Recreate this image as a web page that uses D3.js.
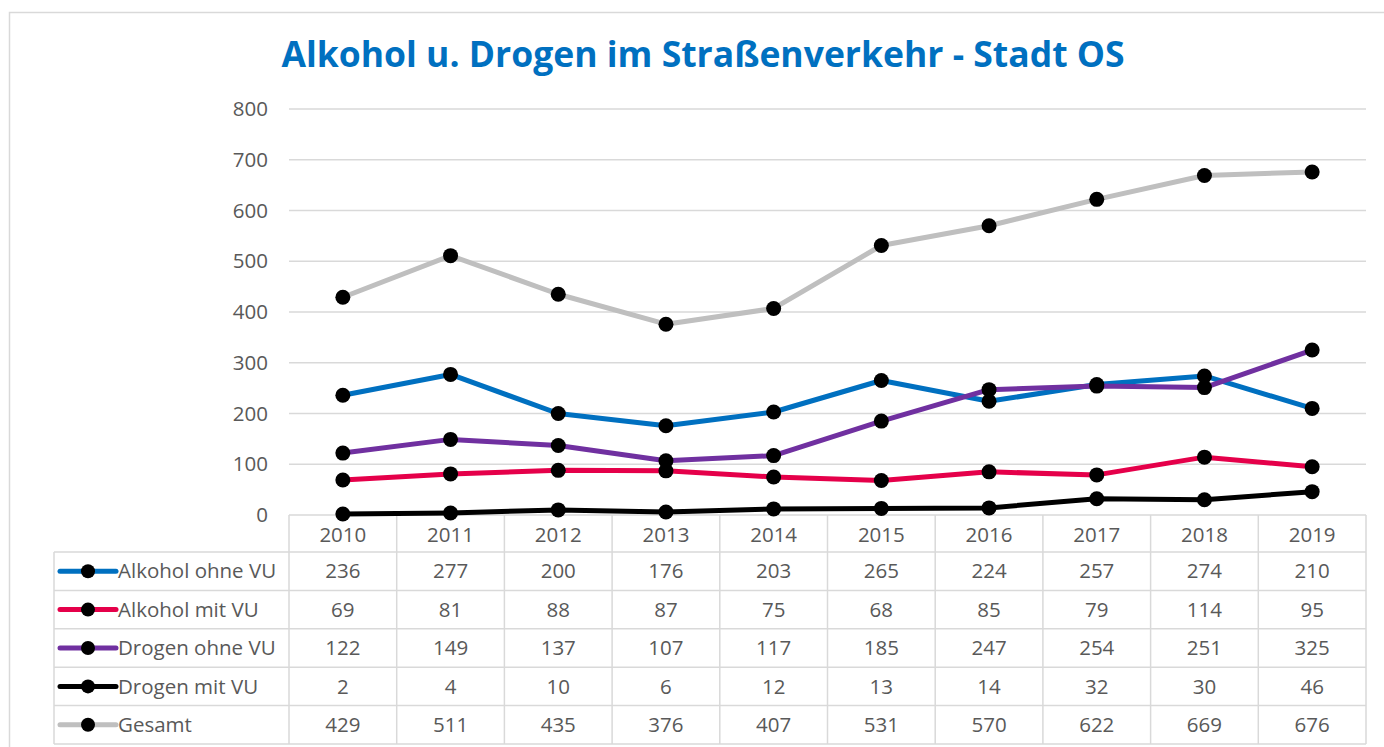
<!DOCTYPE html>
<meta charset="utf-8">
<script src="https://d3js.org/d3.v7.min.js"></script>
<style>
  body { margin: 0; background: #fff; }
  text { font-family: "Open Sans", Lato, sans-serif; }
</style>
<div id="chart"></div>
<script>
// data
var years = ["2010","2011","2012","2013","2014","2015","2016","2017","2018","2019"];
var alkoholOhne = [236, 277, 200, 176, 203, 265, 224, 257, 274, 210];
var alkoholMit  = [69, 81, 88, 87, 75, 68, 85, 79, 114, 95];
var drogenOhne  = [122, 149, 137, 107, 117, 185, 247, 254, 251, 325];
var drogenMit   = [2, 4, 10, 6, 12, 13, 14, 32, 30, 46];
var gesamt      = [429, 511, 435, 376, 407, 531, 570, 622, 669, 676];
var seriesNames = ["Alkohol ohne VU", "Alkohol mit VU", "Drogen ohne VU", "Drogen mit VU", "Gesamt"];
var yTicks = [0, 100, 200, 300, 400, 500, 600, 700, 800];

var series = [
  {name: seriesNames[0], values: alkoholOhne, color: "#0070C0"},
  {name: seriesNames[1], values: alkoholMit,  color: "#E5004A"},
  {name: seriesNames[2], values: drogenOhne,  color: "#7030A0"},
  {name: seriesNames[3], values: drogenMit,   color: "#000000"},
  {name: seriesNames[4], values: gesamt,      color: "#BFBFBF"}
];

var W = 1384, H = 747;
var fs = "20.5px";
var svg = d3.select("#chart").append("svg")
    .attr("width", W).attr("height", H);

// outer frame
svg.append("rect").attr("x", 9.5).attr("y", 12.5)
  .attr("width", 1400).attr("height", 800)
  .attr("fill", "none").attr("stroke", "#d9d9d9").attr("stroke-width", 1.5);

// title
svg.append("text").attr("x", 703).attr("y", 67)
  .attr("text-anchor", "middle")
  .style("font-size", "35.5px").style("font-weight", "bold")
  .attr("fill", "#0070C0")
  .text("Alkohol u. Drogen im Straßenverkehr - Stadt OS");

var x = d3.scaleBand().domain(years).range([289, 1366]).padding(0);
var y = d3.scaleLinear().domain([0, 800]).range([515, 109]);

// gridlines
svg.append("g").selectAll("line").data(yTicks).enter().append("line")
  .attr("x1", 289).attr("x2", 1366)
  .attr("y1", function(d) { return y(d); }).attr("y2", function(d) { return y(d); })
  .attr("stroke", "#d9d9d9").attr("stroke-width", 1.5);

// y tick labels
svg.append("g").selectAll("text").data(yTicks).enter().append("text")
  .attr("x", 268).attr("y", function(d) { return y(d); })
  .attr("dy", "0.35em").attr("text-anchor", "end")
  .style("font-size", fs).attr("fill", "#595959")
  .text(function(d) { return d; });

// data table
var rowH = 38.4, tableTop = 515, headH = 37;
var tbl = svg.append("g");
var gridCol = "#d9d9d9";

// vertical lines of header and body
years.forEach(function(yr, i) {
  tbl.append("line")
    .attr("x1", x(yr)).attr("x2", x(yr))
    .attr("y1", tableTop).attr("y2", tableTop + headH + rowH * series.length)
    .attr("stroke", gridCol).attr("stroke-width", 1.5);
});
tbl.append("line").attr("x1", 1366).attr("x2", 1366)
  .attr("y1", tableTop).attr("y2", tableTop + headH + rowH * series.length)
  .attr("stroke", gridCol).attr("stroke-width", 1.5);
tbl.append("line").attr("x1", 54).attr("x2", 54)
  .attr("y1", tableTop + headH).attr("y2", tableTop + headH + rowH * series.length)
  .attr("stroke", gridCol).attr("stroke-width", 1.5);

// horizontal lines
d3.range(series.length + 1).forEach(function(i) {
  tbl.append("line").attr("x1", 54).attr("x2", 1366)
    .attr("y1", tableTop + headH + i * rowH).attr("y2", tableTop + headH + i * rowH)
    .attr("stroke", gridCol).attr("stroke-width", 1.5);
});

// header years
tbl.selectAll(".yr").data(years).enter().append("text")
  .attr("x", function(d) { return x(d) + x.bandwidth() / 2; })
  .attr("y", tableTop + headH / 2 + 1).attr("dy", "0.35em")
  .attr("text-anchor", "middle")
  .style("font-size", fs).attr("fill", "#595959")
  .text(function(d) { return d; });

series.forEach(function(s, r) {
  var cy = tableTop + headH + r * rowH + rowH / 2;
  // legend key
  tbl.append("line").attr("x1", 60).attr("x2", 116)
    .attr("y1", cy).attr("y2", cy)
    .attr("stroke", s.color).attr("stroke-width", 5).attr("stroke-linecap", "round");
  tbl.append("circle").attr("cx", 88).attr("cy", cy).attr("r", 7).attr("fill", "#000");
  tbl.append("text").attr("x", 118).attr("y", cy).attr("dy", "0.35em")
    .style("font-size", fs).attr("fill", "#595959").text(s.name);
  // values
  s.values.forEach(function(v, i) {
    tbl.append("text")
      .attr("x", x(years[i]) + x.bandwidth() / 2).attr("y", cy).attr("dy", "0.35em")
      .attr("text-anchor", "middle")
      .style("font-size", fs).attr("fill", "#595959").text(v);
  });
});

// lines
var line = d3.line()
  .x(function(d, i) { return x(years[i]) + x.bandwidth() / 2; })
  .y(function(d) { return y(d); });

var drawOrder = [4, 0, 1, 2, 3];
drawOrder.forEach(function(k) {
  var s = series[k];
  svg.append("path").datum(s.values)
    .attr("d", line).attr("fill", "none")
    .attr("stroke", s.color).attr("stroke-width", 5)
    .attr("stroke-linejoin", "round");
});
drawOrder.forEach(function(k) {
  var s = series[k];
  svg.append("g").selectAll("circle").data(s.values).enter().append("circle")
    .attr("cx", function(d, i) { return x(years[i]) + x.bandwidth() / 2; })
    .attr("cy", function(d) { return y(d); })
    .attr("r", 7.5).attr("fill", "#000");
});
</script>
